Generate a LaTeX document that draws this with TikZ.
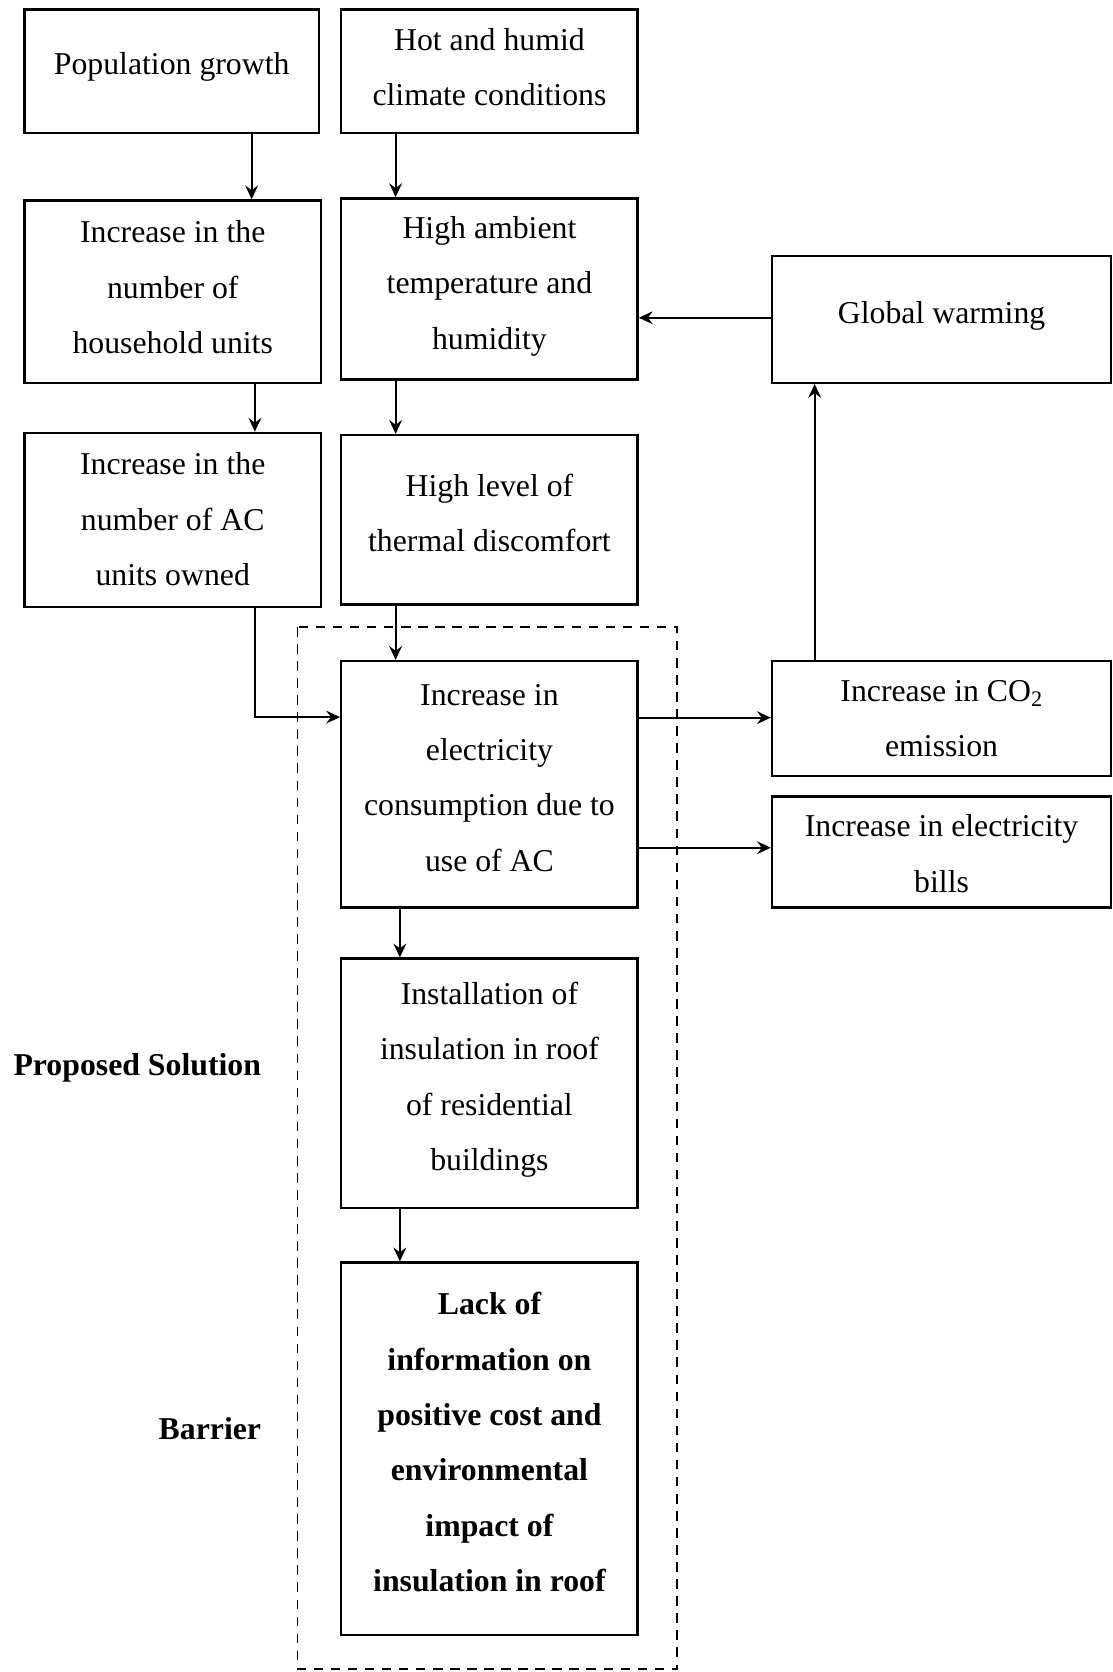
\documentclass[tikz,border=0pt]{standalone}
\usepackage{fontspec}
\setmainfont{Liberation Serif}
\usetikzlibrary{arrows.meta}

\tikzset{
  box/.style={draw, line width=2.2pt, inner sep=0pt},
  txt/.style={align=center, inner sep=0pt, font=\fontsize{29.8pt}{52pt}\selectfont},
  boldtxt/.style={txt, font=\fontsize{29.8pt}{52pt}\selectfont\bfseries},
  arr/.style={line width=1.8pt, -{Stealth[length=13pt,width=12pt,inset=4.5pt]}},
  frame/.style={line width=1.8pt, dash pattern=on 9pt off 7pt},
  sidelabel/.style={font=\fontsize{29.8pt}{52pt}\selectfont\bfseries, anchor=east, inner sep=0pt}
}

\begin{document}
\begin{tikzpicture}[x=1pt,y=1pt]
\useasboundingbox (0,0) rectangle (1043,-1568);

% left column
\node[box, minimum width=276pt, minimum height=116pt,
  label={[txt,yshift=4pt]center:Population growth}] (pop) at (161,-67) {};
\node[box, minimum width=278pt, minimum height=171pt,
  label={[txt,yshift=4pt]center:{Increase in the\\number of\\household units}}] (house) at (162,-273.5) {};
\node[box, minimum width=278pt, minimum height=163pt,
  label={[txt,yshift=0.5pt]center:{Increase in the\\number of AC\\units owned}}] (acown) at (162,-487.5) {};

% middle column
\node[box, minimum width=278pt, minimum height=116pt,
  label={[txt,yshift=4pt]center:{Hot and humid\\climate conditions}}] (hot) at (459,-67) {};
\node[box, minimum width=278pt, minimum height=170pt,
  label={[txt,yshift=2.5pt]center:{High ambient\\temperature and\\humidity}}] (amb) at (459,-271) {};
\node[box, minimum width=278pt, minimum height=159pt,
  label={[txt,yshift=6.5pt]center:{High level of\\thermal discomfort}}] (therm) at (459,-487.5) {};
\node[box, minimum width=278pt, minimum height=231pt,
  label={[txt,yshift=6pt]center:{Increase in\\electricity\\consumption due to\\use of AC}}] (elec) at (459,-735.5) {};
\node[box, minimum width=278pt, minimum height=234pt,
  label={[txt,yshift=3.5pt]center:{Installation of\\insulation in roof\\of residential\\buildings}}] (inst) at (459,-1016) {};
\node[box, minimum width=278pt, minimum height=349pt,
  label={[boldtxt,yshift=6pt]center:{Lack of\\information on\\positive cost and\\environmental\\impact of\\insulation in roof}}] (lack) at (459,-1358.5) {};

% right column
\node[box, minimum width=318pt, minimum height=119pt,
  label={[txt,yshift=3pt]center:Global warming}] (glob) at (883,-299.5) {};
\node[box, minimum width=318pt, minimum height=108pt,
  label={[txt]center:{Increase in CO\textsubscript{2}\\emission}}] (co2) at (883,-674) {};
\node[box, minimum width=318pt, minimum height=104pt,
  label={[txt,yshift=-1.5pt]center:{Increase in electricity\\bills}}] (bills) at (883,-799) {};

% side labels
\node[sidelabel] (lblsol) at (245,-1001) {Proposed Solution};
\node[sidelabel] (lblbar) at (245,-1340) {Barrier};

% dashed frame around solution and barrier
\draw[frame] (279,-588) rectangle (635,-1565);

% connectors
\draw[arr] ([xshift=75pt]pop.south) -- ([xshift=74pt]house.north);
\draw[arr] ([xshift=77pt]house.south) -- ([xshift=77pt]acown.north);
\draw[arr] ([xshift=-88pt]hot.south) -- ([xshift=-88pt]amb.north);
\draw[arr] ([xshift=-88pt]amb.south) -- ([xshift=-88pt]therm.north);
\draw[arr] ([xshift=-88pt]therm.south) -- ([xshift=-88pt]elec.north);
\draw[arr] ([xshift=77pt]acown.south) |- ([yshift=63pt]elec.west);
\draw[arr] ([yshift=62.5pt]elec.east) -- ([yshift=1pt]co2.west);
\draw[arr] ([yshift=-59.5pt]elec.east) -- ([yshift=4pt]bills.west);
\draw[arr] ([xshift=-119pt]co2.north) -- ([xshift=-119pt]glob.south);
\draw[arr] ([yshift=1.5pt]glob.west) -- ([yshift=-27pt]amb.east);
\draw[arr] ([xshift=-84pt]elec.south) -- ([xshift=-84pt]inst.north);
\draw[arr] ([xshift=-84pt]inst.south) -- ([xshift=-84pt]lack.north);
\end{tikzpicture}
\end{document}
